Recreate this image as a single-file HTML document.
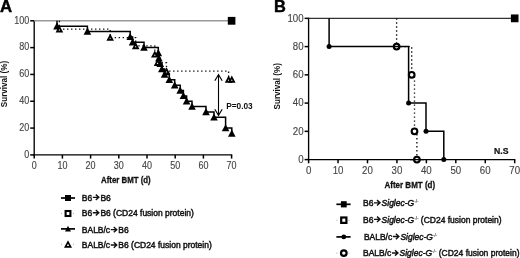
<!DOCTYPE html>
<html><head><meta charset="utf-8"><style>
html,body{margin:0;padding:0;background:#fff;width:520px;height:258px;overflow:hidden}
svg{display:block;filter:grayscale(1)}
</style></head><body>
<svg width="520" height="258" viewBox="0 0 520 258">
<rect width="520" height="258" fill="#fff"/>
<g font-family='"Liberation Sans", sans-serif'>
<text x="-0.1" y="12.3" font-size="16.8" font-weight="bold" fill="#000" stroke="#000" stroke-width="0.45">A</text>
<text x="274.0" y="12.2" font-size="16.4" font-weight="bold" fill="#000" stroke="#000" stroke-width="0.45">B</text>
<line x1="34.2" y1="20.150000000000002" x2="34.2" y2="155.55" stroke="#000" stroke-width="1.35"/>
<line x1="33.550000000000004" y1="154.9" x2="232.25" y2="154.9" stroke="#000" stroke-width="1.35"/>
<line x1="30.200000000000003" y1="154.90" x2="34.2" y2="154.90" stroke="#000" stroke-width="1.5"/>
<text transform="translate(29.20,157.65) scale(1,1.12)" font-size="9.0" fill="#444" stroke="#444" stroke-width="0.12" text-anchor="end">0</text>
<line x1="30.200000000000003" y1="128.08" x2="34.2" y2="128.08" stroke="#000" stroke-width="1.5"/>
<text transform="translate(29.20,130.83) scale(1,1.12)" font-size="9.0" fill="#444" stroke="#444" stroke-width="0.12" text-anchor="end">20</text>
<line x1="30.200000000000003" y1="101.26" x2="34.2" y2="101.26" stroke="#000" stroke-width="1.5"/>
<text transform="translate(29.20,104.01) scale(1,1.12)" font-size="9.0" fill="#444" stroke="#444" stroke-width="0.12" text-anchor="end">40</text>
<line x1="30.200000000000003" y1="74.44" x2="34.2" y2="74.44" stroke="#000" stroke-width="1.5"/>
<text transform="translate(29.20,77.19) scale(1,1.12)" font-size="9.0" fill="#444" stroke="#444" stroke-width="0.12" text-anchor="end">60</text>
<line x1="30.200000000000003" y1="47.62" x2="34.2" y2="47.62" stroke="#000" stroke-width="1.5"/>
<text transform="translate(29.20,50.37) scale(1,1.12)" font-size="9.0" fill="#444" stroke="#444" stroke-width="0.12" text-anchor="end">80</text>
<line x1="30.200000000000003" y1="20.80" x2="34.2" y2="20.80" stroke="#000" stroke-width="1.5"/>
<text transform="translate(29.20,23.55) scale(1,1.12)" font-size="9.0" fill="#444" stroke="#444" stroke-width="0.12" text-anchor="end">100</text>
<line x1="34.20" y1="154.9" x2="34.20" y2="158.6" stroke="#000" stroke-width="1.5"/>
<text transform="translate(34.20,168.7) scale(1,1.12)" font-size="9.0" fill="#444" stroke="#444" stroke-width="0.12" text-anchor="middle">0</text>
<line x1="62.40" y1="154.9" x2="62.40" y2="158.6" stroke="#000" stroke-width="1.5"/>
<text transform="translate(62.40,168.7) scale(1,1.12)" font-size="9.0" fill="#444" stroke="#444" stroke-width="0.12" text-anchor="middle">10</text>
<line x1="90.60" y1="154.9" x2="90.60" y2="158.6" stroke="#000" stroke-width="1.5"/>
<text transform="translate(90.60,168.7) scale(1,1.12)" font-size="9.0" fill="#444" stroke="#444" stroke-width="0.12" text-anchor="middle">20</text>
<line x1="118.80" y1="154.9" x2="118.80" y2="158.6" stroke="#000" stroke-width="1.5"/>
<text transform="translate(118.80,168.7) scale(1,1.12)" font-size="9.0" fill="#444" stroke="#444" stroke-width="0.12" text-anchor="middle">30</text>
<line x1="147.00" y1="154.9" x2="147.00" y2="158.6" stroke="#000" stroke-width="1.5"/>
<text transform="translate(147.00,168.7) scale(1,1.12)" font-size="9.0" fill="#444" stroke="#444" stroke-width="0.12" text-anchor="middle">40</text>
<line x1="175.20" y1="154.9" x2="175.20" y2="158.6" stroke="#000" stroke-width="1.5"/>
<text transform="translate(175.20,168.7) scale(1,1.12)" font-size="9.0" fill="#444" stroke="#444" stroke-width="0.12" text-anchor="middle">50</text>
<line x1="203.40" y1="154.9" x2="203.40" y2="158.6" stroke="#000" stroke-width="1.5"/>
<text transform="translate(203.40,168.7) scale(1,1.12)" font-size="9.0" fill="#444" stroke="#444" stroke-width="0.12" text-anchor="middle">60</text>
<line x1="231.60" y1="154.9" x2="231.60" y2="158.6" stroke="#000" stroke-width="1.5"/>
<text transform="translate(231.60,168.7) scale(1,1.12)" font-size="9.0" fill="#444" stroke="#444" stroke-width="0.12" text-anchor="middle">70</text>
<text transform="translate(101.1,182.72) scale(1,1.15)" font-size="7.85" font-weight="bold" fill="#111" stroke="#111" stroke-width="0.25">After BMT (d)</text>
<text transform="translate(7.2,84.0) rotate(-90) scale(1,1.03)" x="0" y="0" font-size="8.1" font-weight="bold" fill="#111" text-anchor="middle">Survival (%)</text>
<line x1="308.6" y1="17.700000000000003" x2="308.6" y2="160.25" stroke="#000" stroke-width="1.35"/>
<line x1="307.95000000000005" y1="159.6" x2="515.35" y2="159.6" stroke="#000" stroke-width="1.35"/>
<line x1="304.6" y1="159.60" x2="308.6" y2="159.60" stroke="#000" stroke-width="1.5"/>
<text transform="translate(303.60,162.80) scale(1,1.12)" font-size="9.7" fill="#444" stroke="#444" stroke-width="0.12" text-anchor="end">0</text>
<line x1="304.6" y1="131.35" x2="308.6" y2="131.35" stroke="#000" stroke-width="1.5"/>
<text transform="translate(303.60,134.55) scale(1,1.12)" font-size="9.7" fill="#444" stroke="#444" stroke-width="0.12" text-anchor="end">20</text>
<line x1="304.6" y1="103.10" x2="308.6" y2="103.10" stroke="#000" stroke-width="1.5"/>
<text transform="translate(303.60,106.30) scale(1,1.12)" font-size="9.7" fill="#444" stroke="#444" stroke-width="0.12" text-anchor="end">40</text>
<line x1="304.6" y1="74.85" x2="308.6" y2="74.85" stroke="#000" stroke-width="1.5"/>
<text transform="translate(303.60,78.05) scale(1,1.12)" font-size="9.7" fill="#444" stroke="#444" stroke-width="0.12" text-anchor="end">60</text>
<line x1="304.6" y1="46.60" x2="308.6" y2="46.60" stroke="#000" stroke-width="1.5"/>
<text transform="translate(303.60,49.80) scale(1,1.12)" font-size="9.7" fill="#444" stroke="#444" stroke-width="0.12" text-anchor="end">80</text>
<line x1="304.6" y1="18.35" x2="308.6" y2="18.35" stroke="#000" stroke-width="1.5"/>
<text transform="translate(303.60,21.55) scale(1,1.12)" font-size="9.7" fill="#444" stroke="#444" stroke-width="0.12" text-anchor="end">100</text>
<line x1="308.60" y1="159.6" x2="308.60" y2="163.29999999999998" stroke="#000" stroke-width="1.5"/>
<text transform="translate(308.60,173.6) scale(1,1.12)" font-size="9.7" fill="#444" stroke="#444" stroke-width="0.12" text-anchor="middle">0</text>
<line x1="338.04" y1="159.6" x2="338.04" y2="163.29999999999998" stroke="#000" stroke-width="1.5"/>
<text transform="translate(338.04,173.6) scale(1,1.12)" font-size="9.7" fill="#444" stroke="#444" stroke-width="0.12" text-anchor="middle">10</text>
<line x1="367.49" y1="159.6" x2="367.49" y2="163.29999999999998" stroke="#000" stroke-width="1.5"/>
<text transform="translate(367.49,173.6) scale(1,1.12)" font-size="9.7" fill="#444" stroke="#444" stroke-width="0.12" text-anchor="middle">20</text>
<line x1="396.93" y1="159.6" x2="396.93" y2="163.29999999999998" stroke="#000" stroke-width="1.5"/>
<text transform="translate(396.93,173.6) scale(1,1.12)" font-size="9.7" fill="#444" stroke="#444" stroke-width="0.12" text-anchor="middle">30</text>
<line x1="426.37" y1="159.6" x2="426.37" y2="163.29999999999998" stroke="#000" stroke-width="1.5"/>
<text transform="translate(426.37,173.6) scale(1,1.12)" font-size="9.7" fill="#444" stroke="#444" stroke-width="0.12" text-anchor="middle">40</text>
<line x1="455.81" y1="159.6" x2="455.81" y2="163.29999999999998" stroke="#000" stroke-width="1.5"/>
<text transform="translate(455.81,173.6) scale(1,1.12)" font-size="9.7" fill="#444" stroke="#444" stroke-width="0.12" text-anchor="middle">50</text>
<line x1="485.26" y1="159.6" x2="485.26" y2="163.29999999999998" stroke="#000" stroke-width="1.5"/>
<text transform="translate(485.26,173.6) scale(1,1.12)" font-size="9.7" fill="#444" stroke="#444" stroke-width="0.12" text-anchor="middle">60</text>
<line x1="514.70" y1="159.6" x2="514.70" y2="163.29999999999998" stroke="#000" stroke-width="1.5"/>
<text transform="translate(514.70,173.6) scale(1,1.12)" font-size="9.7" fill="#444" stroke="#444" stroke-width="0.12" text-anchor="middle">70</text>
<text transform="translate(384.5,188.23) scale(1,1.15)" font-size="8.0" font-weight="bold" fill="#111" stroke="#111" stroke-width="0.25">After BMT (d)</text>
<text transform="translate(280.1,86.3) rotate(-90) scale(1,1.03)" x="0" y="0" font-size="8.1" font-weight="bold" fill="#111" text-anchor="middle">Survival (%)</text>
<line x1="34.2" y1="20.8" x2="231.6" y2="20.8" stroke="#999" stroke-width="1.5"/>
<rect x="227.80" y="16.90" width="7.6" height="7.8" fill="#000"/>
<path d="M59.40,20.80 V29.18 H110.20 V37.56 H135.70 V45.94 H154.80 V54.33 H157.60 V62.71 H166.50 V71.09 H228.60 V79.47" fill="none" stroke="#111" stroke-width="1.35" stroke-dasharray="1.4 2.6"/>
<path d="M57.00,20.80 V26.16 H87.40 V31.53 H130.20 V36.89 H132.60 V42.26 H144.00 V47.62 H158.30 V52.98 H158.90 V58.35 H160.30 V63.71 H161.80 V69.08 H164.60 V74.44 H169.30 V79.80 H174.70 V85.17 H180.20 V90.53 H183.40 V95.90 H186.60 V101.26 H192.00 V106.62 H206.00 V111.99 H214.00 V117.35 H225.60 V128.08 H231.80 V133.44" fill="none" stroke="#000" stroke-width="1.5"/>
<polygon points="57.00,22.23 60.80,29.38 53.20,29.38" fill="#000"/>
<polygon points="87.40,27.60 91.20,34.74 83.60,34.74" fill="#000"/>
<polygon points="130.20,32.96 134.00,40.11 126.40,40.11" fill="#000"/>
<polygon points="132.60,38.33 136.40,45.47 128.80,45.47" fill="#000"/>
<polygon points="144.00,43.69 147.80,50.83 140.20,50.83" fill="#000"/>
<polygon points="158.30,49.05 162.10,56.20 154.50,56.20" fill="#000"/>
<polygon points="158.90,54.42 162.70,61.56 155.10,61.56" fill="#000"/>
<polygon points="160.30,59.78 164.10,66.93 156.50,66.93" fill="#000"/>
<polygon points="161.80,65.15 165.60,72.29 158.00,72.29" fill="#000"/>
<polygon points="164.60,70.51 168.40,77.65 160.80,77.65" fill="#000"/>
<polygon points="169.30,75.87 173.10,83.02 165.50,83.02" fill="#000"/>
<polygon points="174.70,81.24 178.50,88.38 170.90,88.38" fill="#000"/>
<polygon points="180.20,86.60 184.00,93.75 176.40,93.75" fill="#000"/>
<polygon points="183.40,91.97 187.20,99.11 179.60,99.11" fill="#000"/>
<polygon points="186.60,97.33 190.40,104.47 182.80,104.47" fill="#000"/>
<polygon points="192.00,102.69 195.80,109.84 188.20,109.84" fill="#000"/>
<polygon points="206.00,108.06 209.80,115.20 202.20,115.20" fill="#000"/>
<polygon points="214.00,113.42 217.80,120.57 210.20,120.57" fill="#000"/>
<polygon points="225.60,124.15 229.40,131.29 221.80,131.29" fill="#000"/>
<polygon points="231.80,129.51 235.60,136.66 228.00,136.66" fill="#000"/>
<polygon points="59.40,25.25 63.20,32.40 55.60,32.40" fill="#000"/>
<polygon points="59.40,29.06 60.16,30.49 58.64,30.49" fill="#fff"/>
<polygon points="110.20,33.63 114.00,40.78 106.40,40.78" fill="#000"/>
<polygon points="110.20,37.44 110.96,38.87 109.44,38.87" fill="#fff"/>
<polygon points="135.70,42.01 139.50,49.16 131.90,49.16" fill="#000"/>
<polygon points="135.70,45.82 136.46,47.25 134.94,47.25" fill="#fff"/>
<polygon points="154.80,50.40 158.60,57.54 151.00,57.54" fill="#000"/>
<polygon points="154.80,54.21 155.56,55.63 154.04,55.63" fill="#fff"/>
<polygon points="157.60,58.78 161.40,65.92 153.80,65.92" fill="#000"/>
<polygon points="157.60,62.59 158.36,64.02 156.84,64.02" fill="#fff"/>
<polygon points="166.50,67.16 170.30,74.30 162.70,74.30" fill="#000"/>
<polygon points="166.50,70.97 167.26,72.40 165.74,72.40" fill="#fff"/>
<polygon points="228.60,75.54 232.40,82.68 224.80,82.68" fill="#000"/>
<polygon points="228.60,79.35 229.36,80.78 227.84,80.78" fill="#fff"/>
<polygon points="231.80,75.54 235.60,82.68 228.00,82.68" fill="#000"/>
<polygon points="231.80,79.35 232.56,80.78 231.04,80.78" fill="#fff"/>
<line x1="218.5" y1="75" x2="218.5" y2="114.8" stroke="#000" stroke-width="1.1"/>
<polyline points="214.8,80.8 218.5,74.6 222.2,80.8" fill="none" stroke="#000" stroke-width="1.1"/>
<polyline points="214.8,109.2 218.5,115.4 222.2,109.2" fill="none" stroke="#000" stroke-width="1.1"/>
<text x="226.2" y="109" font-size="8.3" font-weight="bold" fill="#111">P=0.03</text>
<line x1="308.6" y1="18.35" x2="514.7" y2="18.35" stroke="#333" stroke-width="1.3"/>
<rect x="510.90" y="14.45" width="7.6" height="7.8" fill="#000"/>
<path d="M396.60,18.35 V46.60 H411.70 V74.85 H414.50 V131.35 H416.90 V159.60" fill="none" stroke="#111" stroke-width="1.35" stroke-dasharray="1.4 2.6"/>
<circle cx="396.60" cy="46.60" r="2.85" fill="#fff" stroke="#000" stroke-width="2.1"/>
<circle cx="411.70" cy="74.85" r="2.85" fill="#fff" stroke="#000" stroke-width="2.1"/>
<circle cx="414.50" cy="131.35" r="2.85" fill="#fff" stroke="#000" stroke-width="2.1"/>
<circle cx="416.90" cy="159.60" r="2.85" fill="#fff" stroke="#000" stroke-width="2.1"/>
<path d="M329.10,18.35 V46.60 H408.60 V103.10 H426.00 V131.35 H443.80 V159.60" fill="none" stroke="#000" stroke-width="1.5"/>
<circle cx="329.10" cy="46.60" r="2.5" fill="#000"/>
<circle cx="408.60" cy="103.10" r="2.5" fill="#000"/>
<circle cx="426.00" cy="131.35" r="2.5" fill="#000"/>
<circle cx="443.80" cy="159.60" r="2.5" fill="#000"/>
<line x1="410" y1="159.6" x2="424" y2="159.6" stroke="#000" stroke-width="1.3"/>
<text transform="translate(494.0,153.9) scale(1,1.14)" font-size="8.7" font-weight="bold" fill="#111" stroke="#111" stroke-width="0.2">N.S</text>
<line x1="61.0" y1="198.0" x2="75.0" y2="198.0" stroke="#000" stroke-width="1.7"/>
<rect x="65.0" y="195.0" width="6.0" height="6.0" fill="#000"/>
<line x1="61.0" y1="213.5" x2="75.0" y2="213.5" stroke="#aaa" stroke-width="1" stroke-dasharray="1 11"/>
<rect x="65.6" y="211.0" width="4.8" height="5.0" fill="#fff" stroke="#000" stroke-width="2.1"/>
<line x1="61.0" y1="228.9" x2="75.0" y2="228.9" stroke="#000" stroke-width="1.7"/>
<polygon points="68.00,225.80 71.00,231.44 65.00,231.44" fill="#000"/>
<line x1="61.0" y1="244.4" x2="75.0" y2="244.4" stroke="#aaa" stroke-width="1" stroke-dasharray="1 11"/>
<polygon points="68.00,240.16 72.00,247.68 64.00,247.68" fill="#000"/>
<polygon points="68.00,243.77 69.12,245.88 66.88,245.88" fill="#fff"/>
<text transform="translate(81.8,200.58) scale(1,1.06)" font-size="8.5" fill="#1a1a1a" stroke="#111" stroke-width="0.45">B6<tspan dx="8.2">B6</tspan></text>
<path d="M92.80,197.34H98.50M95.80,194.64L98.80,197.34L95.80,200.04" fill="none" stroke="#111" stroke-width="1.4"/>
<text transform="translate(81.8,215.98) scale(1,1.06)" font-size="8.5" fill="#1a1a1a" stroke="#111" stroke-width="0.45">B6<tspan dx="8.2">B6 (CD24 fusion protein)</tspan></text>
<path d="M92.80,212.74H98.50M95.80,210.04L98.80,212.74L95.80,215.44" fill="none" stroke="#111" stroke-width="1.4"/>
<text transform="translate(81.8,232.88) scale(1,1.06)" font-size="8.5" fill="#1a1a1a" stroke="#111" stroke-width="0.45">BALB/c<tspan dx="8.2">B6</tspan></text>
<path d="M110.75,229.64H116.45M113.75,226.94L116.75,229.64L113.75,232.34" fill="none" stroke="#111" stroke-width="1.4"/>
<text transform="translate(81.8,248.28) scale(1,1.06)" font-size="8.5" fill="#1a1a1a" stroke="#111" stroke-width="0.45">BALB/c<tspan dx="8.2">B6 (CD24 fusion protein)</tspan></text>
<path d="M110.75,245.04H116.45M113.75,242.34L116.75,245.04L113.75,247.74" fill="none" stroke="#111" stroke-width="1.4"/>
<line x1="336.4" y1="204.3" x2="350.6" y2="204.3" stroke="#000" stroke-width="1.7"/>
<rect x="340.90000000000003" y="201.20000000000002" width="5.8" height="6.2" fill="#000"/>
<line x1="336.4" y1="220.2" x2="350.6" y2="220.2" stroke="#aaa" stroke-width="1" stroke-dasharray="1 11"/>
<rect x="341.2" y="217.5" width="5.2" height="5.4" fill="#fff" stroke="#000" stroke-width="2.2"/>
<line x1="336.4" y1="236.9" x2="350.6" y2="236.9" stroke="#000" stroke-width="1.7"/>
<circle cx="343.8" cy="236.9" r="2.4" fill="#000"/>
<line x1="336.4" y1="253.1" x2="350.6" y2="253.1" stroke="#aaa" stroke-width="1" stroke-dasharray="1 11"/>
<circle cx="343.8" cy="253.1" r="2.8" fill="#fff" stroke="#000" stroke-width="2.2"/>
<text transform="translate(363.0,206.08) scale(1,1.06)" font-size="8.5" fill="#1a1a1a" stroke="#111" stroke-width="0.45">B6<tspan dx="8.2"><tspan font-style="italic">Siglec-G</tspan><tspan font-size="4.6" dy="-2.7" fill="#444" stroke-width="0.1">-/-</tspan></tspan></text>
<path d="M374.00,202.84H379.70M377.00,200.14L380.00,202.84L377.00,205.54" fill="none" stroke="#111" stroke-width="1.4"/>
<text transform="translate(363.0,222.58) scale(1,1.06)" font-size="8.5" fill="#1a1a1a" stroke="#111" stroke-width="0.45">B6<tspan dx="8.2"><tspan font-style="italic">Siglec-G</tspan><tspan font-size="4.6" dy="-2.7" fill="#444" stroke-width="0.1">-/-</tspan><tspan dy="2.7"> (CD24 fusion protein)</tspan></tspan></text>
<path d="M374.00,219.34H379.70M377.00,216.64L380.00,219.34L377.00,222.04" fill="none" stroke="#111" stroke-width="1.4"/>
<text transform="translate(363.9,239.78) scale(1,1.06)" font-size="8.5" fill="#1a1a1a" stroke="#111" stroke-width="0.45">BALB/c<tspan dx="8.2"><tspan font-style="italic">Siglec-G</tspan><tspan font-size="4.6" dy="-2.7" fill="#444" stroke-width="0.1">-/-</tspan></tspan></text>
<path d="M392.85,236.54H398.55M395.85,233.84L398.85,236.54L395.85,239.24" fill="none" stroke="#111" stroke-width="1.4"/>
<text transform="translate(363.0,256.18) scale(1,1.06)" font-size="8.5" fill="#1a1a1a" stroke="#111" stroke-width="0.45">BALB/c<tspan dx="8.2"><tspan font-style="italic">Siglec-G</tspan><tspan font-size="4.6" dy="-2.7" fill="#444" stroke-width="0.1">-/-</tspan><tspan dy="2.7"> (CD24 fusion protein)</tspan></tspan></text>
<path d="M391.95,252.94H397.65M394.95,250.24L397.95,252.94L394.95,255.64" fill="none" stroke="#111" stroke-width="1.4"/>
</g></svg>
</body></html>
